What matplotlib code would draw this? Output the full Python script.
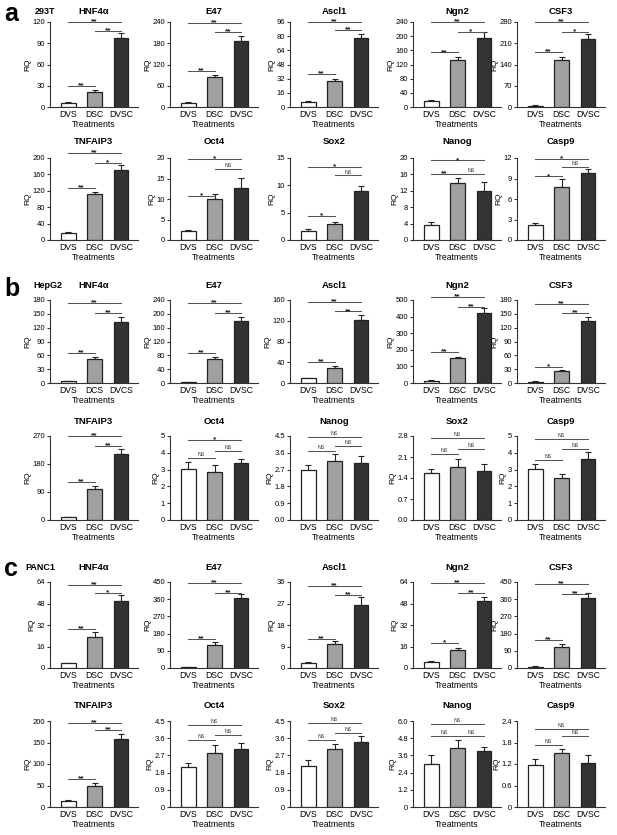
import numpy as np
import matplotlib
matplotlib.use("Agg")
import matplotlib.pyplot as plt

plt.rcParams['font.family'] = ['Liberation Sans', 'DejaVu Sans']

treat = ['DVS', 'DSC', 'DVSC']
treat_hep = ['DVS', 'DCS', 'DVCS']   # as written on the HepG2 HNF4a panel

# comparisons: DVS-DSC, DSC-DVSC, DVS-DVSC
pairs = [(0, 1), (1, 2), (0, 2)]

# ---------- a : 293T ----------
genes_a = ['HNF4α', 'E47', 'Ascl1', 'Ngn2', 'CSF3',
           'TNFAIP3', 'Oct4', 'Sox2', 'Nanog', 'Casp9']
mean_a = [[6, 21, 98], [12, 85, 186], [6, 29, 78], [17, 134, 196], [4, 155, 225],
          [17, 111, 170], [2.3, 10, 12.6], [1.7, 2.9, 9.0], [3.7, 13.8, 12.0], [2.2, 7.8, 9.8]]
err_a = [[1, 3.5, 7], [2, 6, 15], [1, 3, 5], [2, 7, 15], [1, 10, 15],
         [2, 7, 14], [0.2, 1.3, 2.6], [0.3, 0.35, 0.8], [0.6, 1.4, 2.2], [0.25, 1.1, 0.55]]
ytop_a = [120, 240, 96, 240, 280, 200, 20, 15, 20, 12]
ystep_a = [30, 60, 16, 40, 70, 40, 5, 5, 4, 3]
sigy_a = [[30, 108, 120], [103, 211, 237], [37, 87, 96], [154, 211, 240], [180, 247, 280],
          [127, 188, 212], [10.8, 17.3, 19.8], [4.4, 11.8, 13.3], [16.2, 16.2, 19.4], [9.3, 10.7, 11.85]]
sigt_a = [['**', '**', '**'], ['**', '**', '**'], ['**', '**', '**'], ['**', '*', '**'], ['**', '*', '**'],
          ['**', '*', '**'], ['*', 'NS', '*'], ['*', 'NS', '*'], ['**', 'NS', '*'], ['*', 'NS', '*']]

# ---------- b : HepG2 ----------
genes_b = ['HNF4α', 'E47', 'Ascl1', 'Ngn2', 'CSF3',
           'TNFAIP3', 'Oct4', 'Nanog', 'Sox2', 'Casp9']
mean_b = [[4, 53, 133], [3, 69, 180], [9, 29, 122], [15, 148, 420], [3, 25, 134],
          [10, 100, 213], [3.05, 2.88, 3.42], [2.68, 3.15, 3.05], [1.57, 1.77, 1.65], [3.05, 2.5, 3.62]]
err_b = [[0.5, 4, 11], [0.5, 5, 12], [1, 3, 10], [2, 10, 30], [0.5, 2.5, 9],
         [1, 8, 14], [0.38, 0.4, 0.2], [0.25, 0.4, 0.38], [0.12, 0.28, 0.22], [0.28, 0.25, 0.42]]
ytop_b = [180, 240, 160, 500, 180, 270, 5, 4.5, 2.8, 5]
ystep_b = [30, 40, 40, 100, 30, 90, 1, 0.9, 0.7, 1]
sigy_b = [[66, 151, 173], [88, 203, 232], [41, 138, 156], [188, 460, 520], [34, 151, 171],
          [121, 238, 270], [3.67, 4.13, 4.76], [3.69, 3.96, 4.46], [2.19, 2.38, 2.74], [3.56, 4.25, 4.8]]
sigt_b = [['**', '**', '**'], ['**', '**', '**'], ['**', '**', '**'], ['**', '**', '**'], ['*', '**', '**'],
          ['**', '**', '**'], ['NS', 'NS', '*'], ['NS', 'NS', 'NS'], ['NS', 'NS', 'NS'], ['NS', 'NS', 'NS']]

# ---------- c : PANC1 ----------
genes_c = ['HNF4α', 'E47', 'Ascl1', 'Ngn2', 'CSF3',
           'TNFAIP3', 'Oct4', 'Sox2', 'Nanog', 'Casp9']
mean_c = [[3.5, 23, 50], [4, 120, 365], [2.3, 10, 26.5], [4.5, 13.5, 50], [7, 112, 365],
          [15, 49, 158], [2.08, 2.8, 3.05], [2.15, 3.05, 3.42], [3.0, 4.1, 3.9], [1.17, 1.52, 1.23]]
err_c = [[0.4, 3.5, 4], [1, 15, 22], [0.2, 1.2, 3.3], [0.5, 1.5, 3], [2, 15, 25],
         [2, 6, 12], [0.2, 0.45, 0.3], [0.3, 0.25, 0.28], [0.6, 0.55, 0.3], [0.17, 0.1, 0.22]]
ytop_c = [64, 450, 36, 64, 450, 200, 4.5, 4.5, 6.0, 2.4]
ystep_c = [16, 90, 9, 16, 90, 50, 0.9, 0.9, 1.2, 0.6]
sigy_c = [[28.8, 56, 62], [150, 395, 445], [12.1, 30.5, 34.2], [18.5, 56, 63.5], [147, 386, 441],
          [65, 180, 196], [3.5, 3.76, 4.28], [3.5, 3.88, 4.4], [4.96, 4.96, 5.77], [1.74, 1.97, 2.18]]
sigt_c = [['**', '*', '**'], ['**', '**', '**'], ['**', '**', '**'], ['*', '**', '**'], ['**', '**', '**'],
          ['**', '**', '**'], ['NS', 'NS', 'NS'], ['NS', 'NS', 'NS'], ['NS', 'NS', 'NS'], ['NS', 'NS', 'NS']]

W, H = 617, 835
col_left = [50, 170, 290, 413, 517]
col_w = 88
# top / bottom pixel rows of every axes row (a1, a2, b1, b2, c1, c2)
row_px = [(22, 107), (158, 240), (300, 383), (436, 520), (582, 668), (721, 807)]
title_px = [11, 142, 286, 422, 567, 705]

bar_colors = ['white', '#a0a0a0', '#333333']

fig = plt.figure(figsize=(W / 100, H / 100), dpi=100)


def draw(ax, gene, means, errs, top, step, sigy, sigt, labels, zero_dec):
    x = np.arange(3)
    ax.bar(x, means, width=0.55, color=bar_colors, edgecolor='#222222', linewidth=0.9, zorder=2)
    ax.errorbar(x, means, yerr=[np.zeros(3), errs], fmt='none', ecolor='#222222',
                elinewidth=0.8, capsize=2.2, capthick=0.8, zorder=1)
    ax.set_xlim(-0.7, 2.65)
    ax.set_ylim(0, top)
    ticks = np.arange(0, top + step / 2, step)
    ax.set_yticks(ticks)
    if float(step).is_integer():
        tl = ['%d' % t for t in ticks]
    else:
        tl = ['%.1f' % t for t in ticks]
        if not zero_dec:
            tl[0] = '0'
    ax.set_yticklabels(tl)
    ax.set_xticks(x)
    ax.set_xticklabels(labels)
    ax.tick_params(axis='x', length=0, labelsize=6.2, pad=2)
    ax.tick_params(axis='y', length=2.5, width=0.8, labelsize=5.5, pad=1, color='#333333')
    for s in ['top', 'right']:
        ax.spines[s].set_visible(False)
    for s in ['left', 'bottom']:
        ax.spines[s].set_linewidth(0.8)
        ax.spines[s].set_color('#333333')
    ax.set_ylabel('RQ', fontsize=6, labelpad=1)
    ax.set_xlabel('Treatments', fontsize=6.2, labelpad=1)
    for (i, j), yy, t in zip(pairs, sigy, sigt):
        ax.plot([i, j], [yy, yy], color='#555555', lw=0.75, clip_on=False)
        if t == 'NS':
            ax.annotate(t, ((i + j) / 2, yy), xytext=(0, 0.7), textcoords='offset points',
                        ha='center', va='bottom', fontsize=3.8, color='#333333', annotation_clip=False)
        else:
            ax.annotate(t, ((i + j) / 2, yy), xytext=(0, -2.4), textcoords='offset points',
                        ha='center', va='bottom', fontsize=6, fontweight='bold', color='#222222',
                        annotation_clip=False)


blocks = [
    (genes_a, mean_a, err_a, ytop_a, ystep_a, sigy_a, sigt_a, True),
    (genes_b, mean_b, err_b, ytop_b, ystep_b, sigy_b, sigt_b, True),
    (genes_c, mean_c, err_c, ytop_c, ystep_c, sigy_c, sigt_c, False),
]

for b, (genes, means, errs, tops, steps, sigys, sigts, zdec) in enumerate(blocks):
    for k in range(10):
        r = b * 2 + k // 5
        c = k % 5
        y0, y1 = row_px[r]
        ax = fig.add_axes([col_left[c] / W, 1 - y1 / H, col_w / W, (y1 - y0) / H])
        labels = treat_hep if (b == 1 and k == 0) else treat
        draw(ax, genes[k], means[k], errs[k], tops[k], steps[k], sigys[k], sigts[k], labels, zdec)
        fig.text((col_left[c] + col_w / 2) / W, 1 - title_px[r] / H, genes[k],
                 ha='center', va='center', fontsize=6.8, fontweight='bold')

# panel letters and cell lines
fig.text(4 / W, 1 - 14 / H, 'a', fontsize=18, fontweight='bold', va='center')
fig.text(4 / W, 1 - 289 / H, 'b', fontsize=18, fontweight='bold', va='center')
fig.text(4 / W, 1 - 569 / H, 'c', fontsize=18, fontweight='bold', va='center')
fig.text(35 / W, 1 - 11 / H, '293T', fontsize=6.5, fontweight='bold', va='center')
fig.text(33 / W, 1 - 286 / H, 'HepG2', fontsize=6.5, fontweight='bold', va='center')
fig.text(25 / W, 1 - 567 / H, 'PANC1', fontsize=6.5, fontweight='bold', va='center')

plt.savefig('out.png', dpi=100)
